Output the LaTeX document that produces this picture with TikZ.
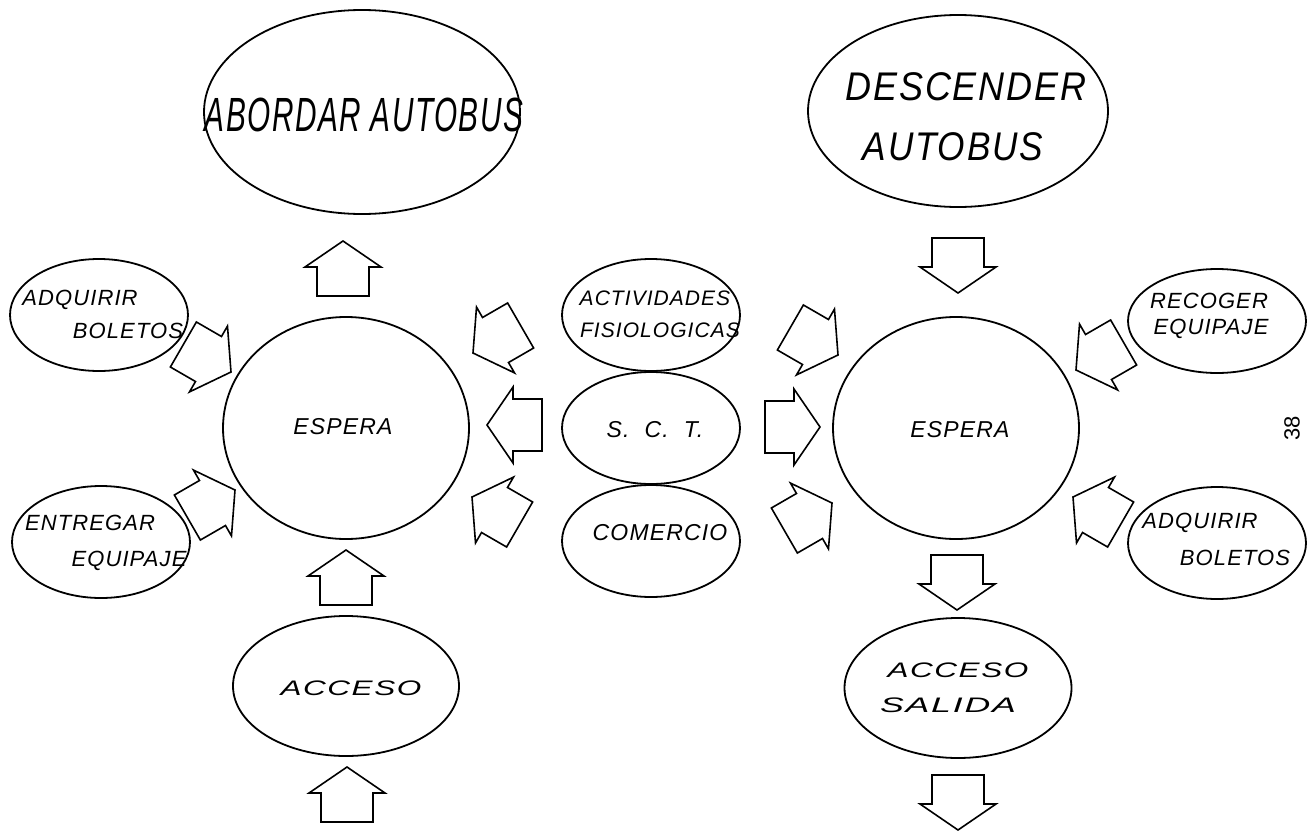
\documentclass[tikz,border=0pt]{standalone}
\usepackage{fontspec}
\usepackage{graphicx}
\setmainfont{Liberation Sans}
\newfontfamily\lab[LetterSpace=5]{Liberation Sans}
\usetikzlibrary{shapes.geometric}
\newcommand{\fsz}[1]{\fontsize{#1}{#1}\selectfont}
\tikzset{
  bub/.style={draw, ellipse, line width=1.8pt, inner sep=0pt},
  txt/.style={inner sep=0pt, font=\lab\itshape\fsz{22}},
  arr/.style={draw, line width=1.6pt, line join=miter, fill=white},
  barrow/.pic={\path[arr] (0,0) -- (-26,38) -- (-26,26) -- (-55,26) -- (-55,-26) -- (-26,-26) -- (-26,-38) -- cycle;}
}
\begin{document}
\begin{tikzpicture}[x=1pt,y=-1pt]
\useasboundingbox[fill=white] (0,0) rectangle (1307,833);

% ellipses
\node[bub, minimum width=316pt, minimum height=204pt] (abordar) at (362,112) {};
\node[bub, minimum width=300pt, minimum height=192pt] (descender) at (958,111) {};
\node[bub, minimum width=178pt, minimum height=112pt] (adq1) at (99,315) {};
\node[bub, minimum width=178pt, minimum height=112pt] (entr) at (101,542) {};
\node[bub, minimum width=246pt, minimum height=222pt] (esp1) at (346,428) {};
\node[bub, minimum width=178pt, minimum height=112pt] (act) at (651,315) {};
\node[bub, minimum width=178pt, minimum height=112pt] (sct) at (651,428) {};
\node[bub, minimum width=178pt, minimum height=112pt] (com) at (651,541) {};
\node[bub, minimum width=246pt, minimum height=222pt] (esp2) at (956,428) {};
\node[bub, minimum width=178pt, minimum height=104pt] (rec) at (1217,321) {};
\node[bub, minimum width=178pt, minimum height=112pt] (adq2) at (1217,543) {};
\node[bub, minimum width=226pt, minimum height=140pt] (acc1) at (346,686) {};
\node[bub, minimum width=227pt, minimum height=140pt] (acc2) at (958,688) {};

% texts
\node[txt] (t-abordar) at (364,115) {\scalebox{0.62}[1]{\fsz{48}ABORDAR AUTOBUS}};
\node[txt] (t-desc1) at (966,87) {\scalebox{0.9}[1]{\fsz{40}DESCENDER}};
\node[txt] (t-desc2) at (953,147) {\scalebox{0.88}[1]{\fsz{40}AUTOBUS}};
\node[txt] (t-adq1a) at (80,300) {ADQUIRIR};
\node[txt] (t-adq1b) at (128,331) {BOLETOS};
\node[txt] (t-entra) at (90,523) {ENTREGAR};
\node[txt] (t-entrb) at (129,561) {EQUIPAJE};
\node[txt, font=\lab\itshape\fsz{23}] (t-esp1) at (343,427) {ESPERA};
\node[txt, font=\lab\itshape\fsz{21}] (t-acta) at (655,298) {ACTIVIDADES};
\node[txt, font=\lab\itshape\fsz{21}] (t-actb) at (660,330) {FISIOLOGICAS};
\node[txt, font=\lab\itshape\fsz{23}] (t-sct) at (655,430) {S.\ \ C.\ \ T.};
\node[txt, font=\lab\itshape\fsz{23}] (t-com) at (660,533) {COMERCIO};
\node[txt, font=\lab\itshape\fsz{23}] (t-esp2) at (960,430) {ESPERA};
\node[txt] (t-reca) at (1209,301) {RECOGER};
\node[txt] (t-recb) at (1211,329) {EQUIPAJE};
\node[txt] (t-adq2a) at (1200,523) {ADQUIRIR};
\node[txt] (t-adq2b) at (1235,558) {BOLETOS};
\node[txt] (t-acc1) at (351,688) {\scalebox{1.5}[1]{\fsz{21}ACCESO}};
\node[txt] (t-acc2a) at (958,670) {\scalebox{1.5}[1]{\fsz{21}ACCESO}};
\node[txt] (t-acc2b) at (948,705) {\scalebox{1.7}[1]{\fsz{21}SALIDA}};
\node[inner sep=0pt, rotate=90, font=\fsz{22}] (pagenum) at (1292,428) {38};

% block arrows
\pic[rotate=90] at (343,241) {barrow};
\pic[rotate=-90] at (958,293) {barrow};
\pic[rotate=-30] at (231,372) {barrow};
\pic[rotate=30] at (235,490) {barrow};
\pic[rotate=90] at (346,550) {barrow};
\pic[rotate=90] at (347,767) {barrow};
\pic[rotate=-150] at (473,353) {barrow};
\pic[rotate=180] at (487,425) {barrow};
\pic[rotate=150] at (472,497) {barrow};
\pic[rotate=-30] at (838,355) {barrow};
\pic[rotate=0] at (820,427) {barrow};
\pic[rotate=30] at (832,503) {barrow};
\pic[rotate=-150] at (1076,370) {barrow};
\pic[rotate=150] at (1073,497) {barrow};
\pic[rotate=-90] at (957,610) {barrow};
\pic[rotate=-90] at (958,830) {barrow};
\end{tikzpicture}
\end{document}
